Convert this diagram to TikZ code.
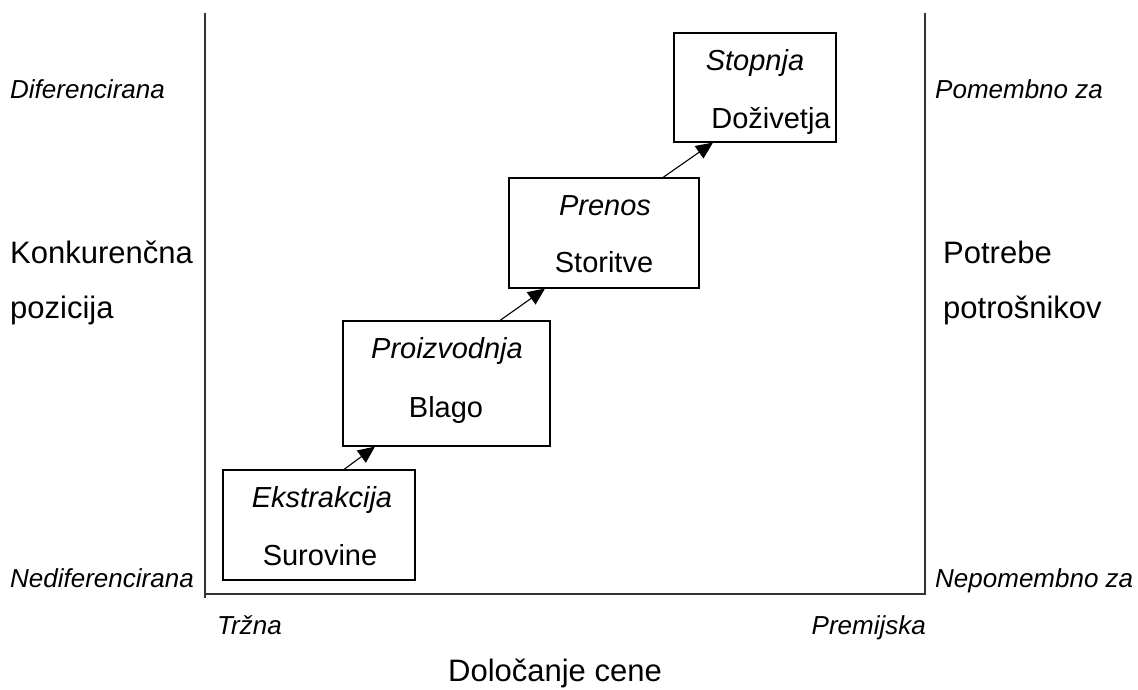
\documentclass[tikz,border=0pt]{standalone}
\usepackage{fontspec}
\setmainfont{Liberation Sans}
\usetikzlibrary{arrows.meta,calc}
\tikzset{
  stage/.style={draw=black, line width=1.1pt, rectangle, inner sep=0pt},
  lbl/.style={inner sep=0pt, font=\fontsize{29}{34}\selectfont},
  ilbl/.style={inner sep=0pt, font=\fontsize{29}{34}\selectfont\itshape},
  side/.style={inner sep=0pt, font=\fontsize{31}{36}\selectfont},
  corner/.style={inner sep=0pt, font=\fontsize{26}{30}\selectfont\itshape},
  axis/.style={line width=1.4pt, draw=black!80},
  arr/.style={line width=1.1pt, -{Triangle[length=17pt,width=15pt]}}
}
\begin{document}
\begin{tikzpicture}[x=1pt,y=-1pt]
\useasboundingbox (0,0) rectangle (1138,689);
% axes
\coordinate (lt) at (205,13);
\coordinate (lb) at (205,598);
\coordinate (rt) at (925,13);
\coordinate (rb) at (925,594);
\coordinate (bl) at (205,594);
\draw[axis] (lt) -- (lb);
\draw[axis] (bl) -- (rb) -- (rt);
% boxes
\node[stage, minimum width=192pt, minimum height=110pt] (ext) at (319,525) {};
\node[stage, minimum width=207pt, minimum height=125pt] (pro) at (446.5,383.5) {};
\node[stage, minimum width=190pt, minimum height=110pt] (pre) at (604,233) {};
\node[stage, minimum width=162pt, minimum height=109pt] (sto) at (755,87.5) {};
% box texts
\node[ilbl, anchor=base] (t1a) at (322,507) {Ekstrakcija};
\node[lbl, anchor=base] (t1b) at (320,565) {Surovine};
\node[ilbl, anchor=base] (t2a) at (447,358) {Proizvodnja};
\node[lbl, anchor=base] (t2b) at (446,417) {Blago};
\node[ilbl, anchor=base] (t3a) at (605,215) {Prenos};
\node[lbl, anchor=base] (t3b) at (604,272) {Storitve};
\node[ilbl, anchor=base] (t4a) at (755,70) {Stopnja};
\node[lbl, anchor=base] (t4b) at (771,128) {Doživetja};
% arrows
\draw[arr] ([xshift=25pt]ext.north) -- ([xshift=-71.5pt]pro.south);
\draw[arr] ([xshift=53.5pt]pro.north) -- ([xshift=-59pt]pre.south);
\draw[arr] ([xshift=59pt]pre.north) -- ([xshift=-42pt]sto.south);
% side labels
\node[corner, anchor=base west] (dif) at (10,98) {Diferencirana};
\node[corner, anchor=base west] (ndif) at (10,587) {Nediferencirana};
\node[corner, anchor=base west] (pom) at (935,98) {Pomembno za};
\node[corner, anchor=base west] (npom) at (935,587) {Nepomembno za};
\node[side, anchor=base west] (kon1) at (10,263) {Konkurenčna};
\node[side, anchor=base west] (kon2) at (10,318) {pozicija};
\node[side, anchor=base west] (pot1) at (943,263) {Potrebe};
\node[side, anchor=base west] (pot2) at (943,318) {potrošnikov};
\node[corner, anchor=base west] (trz) at (217,634) {Tržna};
\node[corner, anchor=base east] (prem) at (926,634) {Premijska};
\node[side, anchor=base] (dol) at (555,681) {Določanje cene};
\end{tikzpicture}
\end{document}
